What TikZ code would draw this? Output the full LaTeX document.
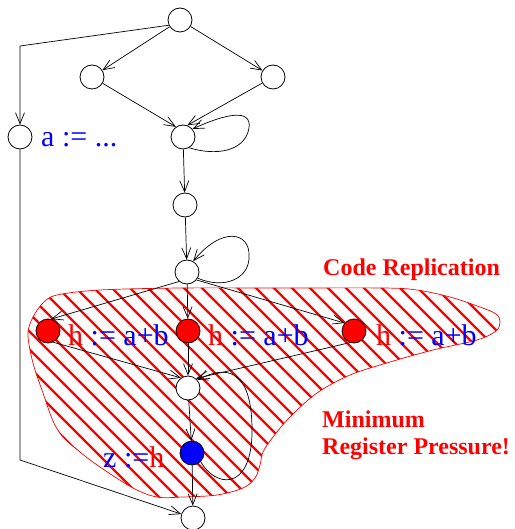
\documentclass[tikz,border=0pt]{standalone}
\usepackage{fontspec}
\setmainfont{Liberation Serif}
\usetikzlibrary{arrows.meta}
\begin{document}
\begin{tikzpicture}[x=1pt,y=-1pt,
  st/.style={circle,draw,line width=0.8pt,fill=white,minimum size=24pt,inner sep=0pt},
  rednode/.style={st,fill=red},
  bluenode/.style={st,fill=blue},
  arr/.style={line width=0.7pt,-{Straight Barb[length=11pt,width=9pt,line width=0.7pt]}},
  lbl/.style={anchor=base west,inner sep=0pt,font=\fontsize{30}{32}\selectfont},
  note/.style={anchor=base west,inner sep=0pt,text=red,font=\fontsize{24}{27}\selectfont\bfseries},
  hatch/.style={red,line width=2.2pt},
  outline/.style={red,line width=0.7pt}]
\useasboundingbox (0,0) rectangle (514,529);
% hatched region
\begin{scope}
\clip plot[smooth cycle,tension=0.55] coordinates {
 (28,332) (33,317) (43,303) (57,295) (100,290) (180,288) (280,288) (383,288)
 (417,290) (450,297) (480,307) (496,314) (500,322) (496,331) (477,340) (433,350)
 (390,362) (350,375) (317,393) (290,417) (273,437) (263,452) (260,465) (255,478)
 (243,488) (217,495) (183,497) (157,497) (133,488) (100,467) (80,452) (63,437)
 (53,421) (43,393) (35,370) (30,350)};
\foreach \k in {-220,-202,...,520} \draw[hatch] (\k,280) -- ++(240,240);
\end{scope}
\draw[outline] plot[smooth cycle,tension=0.55] coordinates {
 (28,332) (33,317) (43,303) (57,295) (100,290) (180,288) (280,288) (383,288)
 (417,290) (450,297) (480,307) (496,314) (500,322) (496,331) (477,340) (433,350)
 (390,362) (350,375) (317,393) (290,417) (273,437) (263,452) (260,465) (255,478)
 (243,488) (217,495) (183,497) (157,497) (133,488) (100,467) (80,452) (63,437)
 (53,421) (43,393) (35,370) (30,350)};
% nodes
\node[st] (n1) at (180,20) {};
\node[st] (n2) at (92,77) {};
\node[st] (n3) at (273,77) {};
\node[st] (n4) at (183,137) {};
\node[st] (na) at (20,137) {};
\node[st] (n5) at (185,205) {};
\node[st] (n6) at (187,272) {};
\node[rednode] (r1) at (48,331) {};
\node[rednode] (r2) at (188,331) {};
\node[rednode] (r3) at (354,331) {};
\node[st] (n7) at (188,388) {};
\node[bluenode] (b) at (192,453) {};
\node[st] (bot) at (193,518) {};
% edges
\coordinate (c1) at (20,46);
\coordinate (c2) at (20,460);
\draw[arr] (n1.205) -- (c1) -- (na);
\draw[arr] (n1) -- (n2);
\draw[arr] (n1) -- (n3);
\draw[arr] (n2) -- (n4.125);
\draw[arr] (n3) -- (n4.70);
\draw[arr] (n4.-60) .. controls (215,156) and (245,152) .. (249,128) .. controls (252,108) and (225,114) .. (n4.40);
\draw[arr] (n4) -- (n5);
\draw[arr] (n5) -- (n6);
\draw[arr] (n6.-30) .. controls (225,290) and (250,278) .. (249,256) .. controls (250,232) and (222,226) .. (n6.60);
\draw[arr] (n6.-130) -- (r1.75);
\draw[arr] (n6) -- (r2);
\draw[arr] (n6.-40) -- (r3.140);
\draw[arr] (r1.-65) -- (n7.125);
\draw[arr] (r2) -- (n7);
\draw[arr] (r3.-110) -- (n7.50);
\draw[arr] (n7) -- (b);
\draw[arr] (b.-45) .. controls (215,487) and (250,492) .. (252,435) .. controls (253,380) and (235,360) .. (n7.40);
\draw[arr] (b) -- (bot);
\draw[arr] (na) -- (c2) -- (bot);
% labels
\node[lbl,text=blue] (la) at (41,147) {a := ...};
\node[lbl] (l1) at (68,345) {\textcolor{red}{h} \textcolor{blue}{:= a+b}};
\node[lbl] (l2) at (208,345) {\textcolor{red}{h} \textcolor{blue}{:= a+b}};
\node[lbl] (l3) at (376,345) {\textcolor{red}{h} \textcolor{blue}{:= a+b}};
\node[lbl] (lz) at (103,467) {\textcolor{blue}{z :=}\textcolor{red}{h}};
\node[note] (cr) at (323,275) {Code Replication};
\node[note] (mr1) at (322,427) {Minimum};
\node[note] (mr2) at (322,454) {Register Pressure!};
\end{tikzpicture}
\end{document}
